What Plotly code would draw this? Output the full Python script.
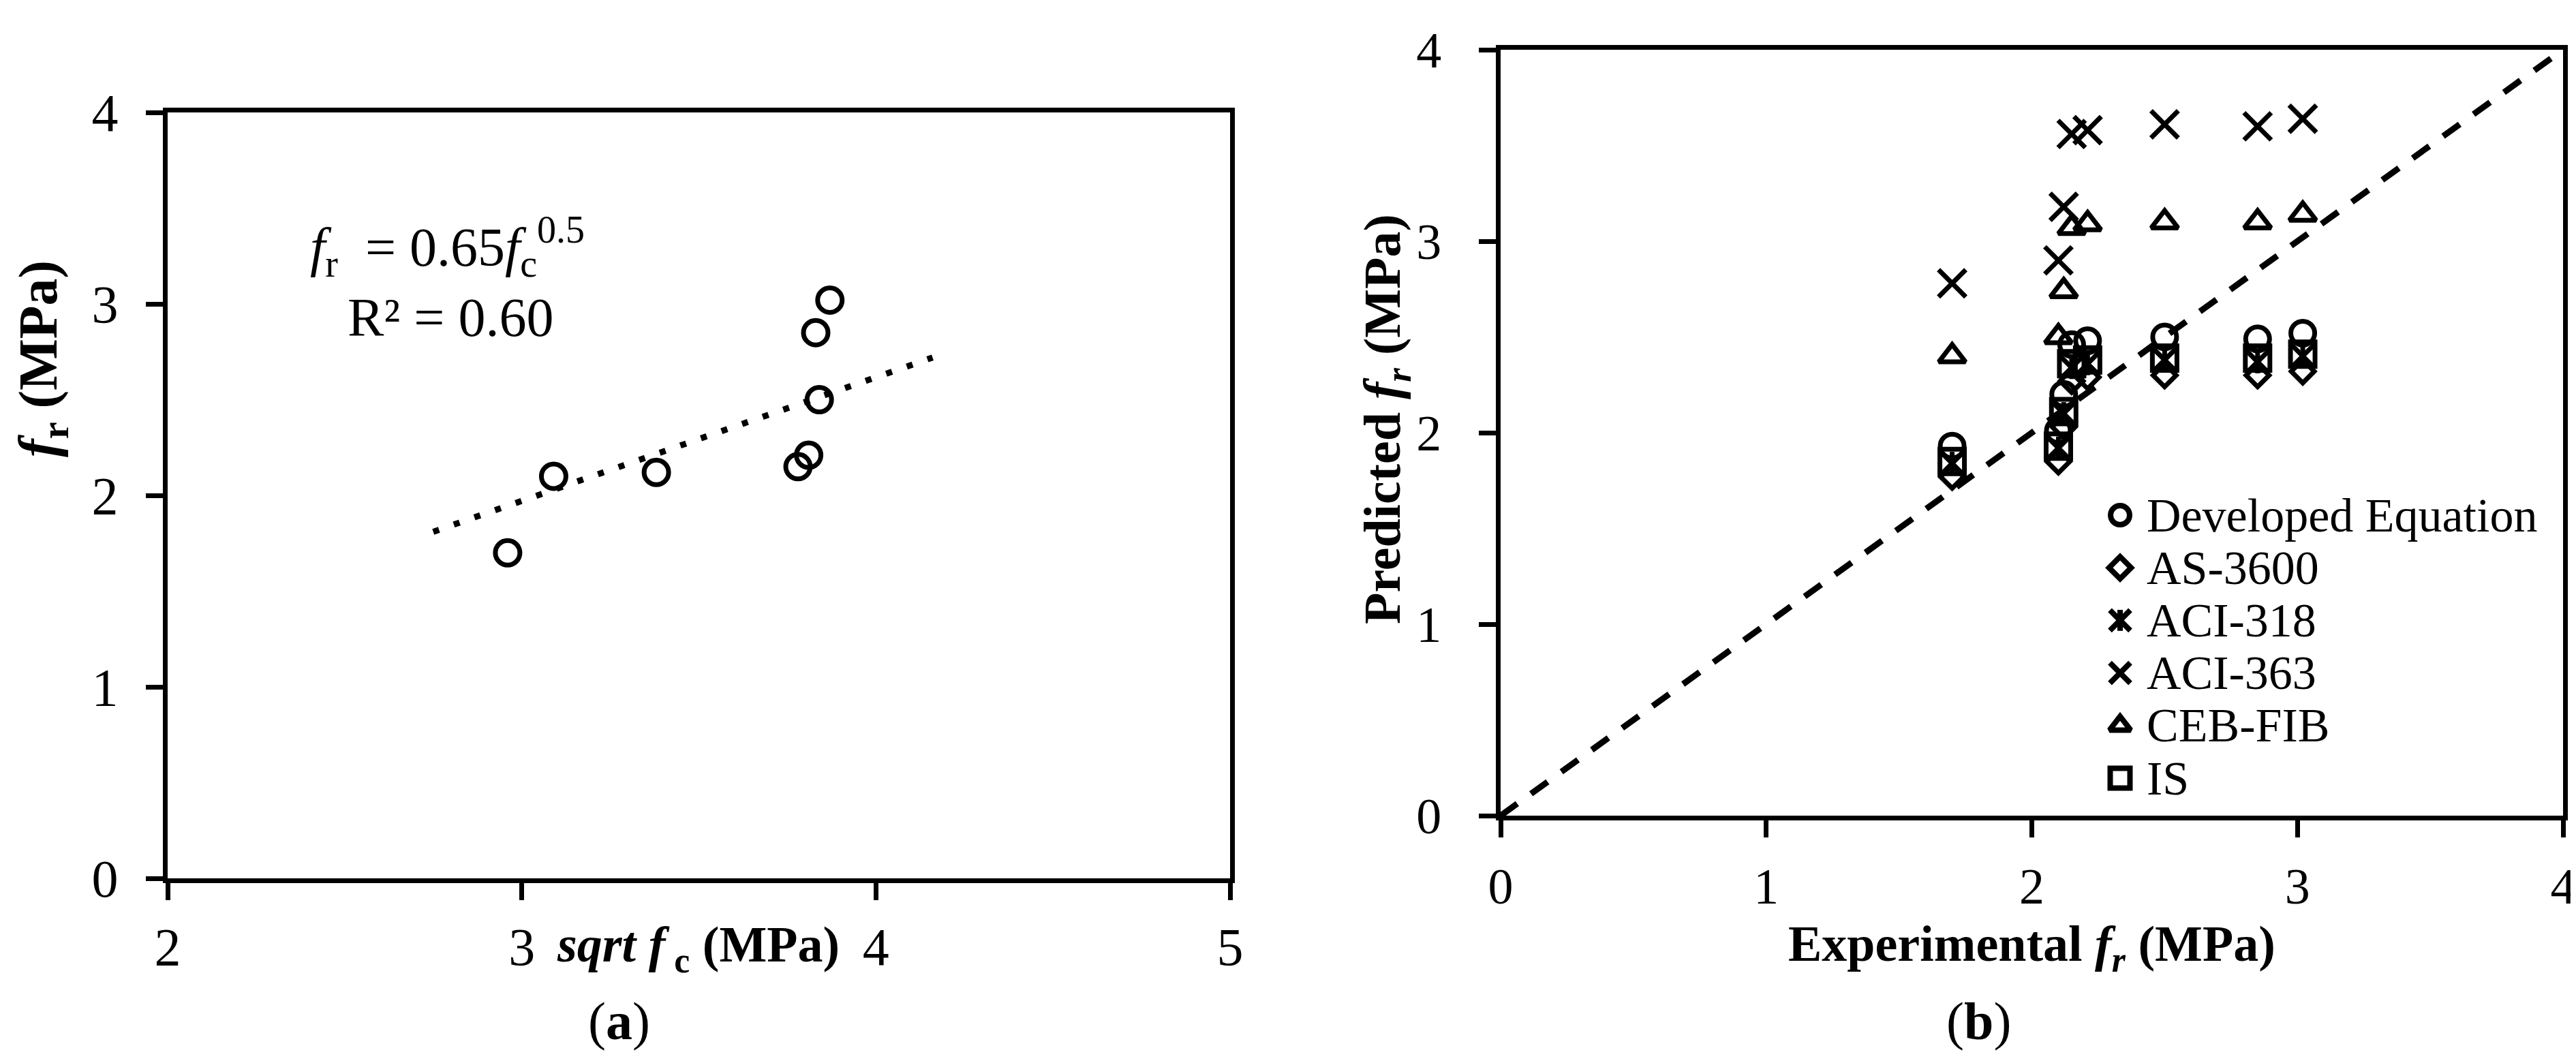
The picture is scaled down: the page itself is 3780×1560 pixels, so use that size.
import plotly.graph_objects as go

W, H = 3780, 1560

# ---- panel (a): modulus of rupture vs sqrt of compressive strength ----
sqrt_fc = [2.96, 3.09, 3.38, 3.78, 3.81, 3.84, 3.83, 3.87]
fr_exp = [1.70, 2.10, 2.12, 2.15, 2.21, 2.50, 2.85, 3.02]
trend_x = [2.75, 4.16]
trend_y = [1.81, 2.72]
ticks_a_x = [2, 3, 4, 5]
ticks_a_y = [0, 1, 2, 3, 4]

# ---- panel (b): predicted vs experimental f_r ----
pred_dev = [1.93, 2.01, 2.20, 2.46, 2.48, 2.50, 2.49, 2.52]
pred_as3600 = [1.77, 1.85, 2.03, 2.27, 2.29, 2.30, 2.30, 2.32]
pred_aci318 = [1.84, 1.92, 2.10, 2.34, 2.36, 2.38, 2.37, 2.40]
pred_aci363 = [2.78, 2.90, 3.18, 3.56, 3.58, 3.61, 3.60, 3.64]
pred_ceb = [2.40, 2.50, 2.74, 3.07, 3.09, 3.10, 3.10, 3.14]
pred_is = [1.85, 1.93, 2.11, 2.36, 2.38, 2.39, 2.39, 2.41]
equality = [0, 4]
ticks_b = [0, 1, 2, 3, 4]

SERIF = "Liberation Serif"
LW = 7

# name, values, [(symbol, plot size, legend size), ...] drawn on top of each other
series = [
    ("Developed Equation", pred_dev, [("circle-open", 35, 28)]),
    ("AS-3600", pred_as3600, [("diamond-open", 26, 25)]),
    ("ACI-318", pred_aci318, [("x-thin-open", 34, 30), ("line-ns-open", 24, 22)]),
    ("ACI-363", pred_aci363, [("x-thin-open", 40, 30)]),
    ("CEB-FIB", pred_ceb, [("triangle-up-open", 34, 27)]),
    ("IS", pred_is, [("square-open", 36, 29)]),
]


def px(x):
    return x / W


def py(y):
    return 1 - y / H


fig = go.Figure()

# ── (a) scatter + trend ──
fig.add_trace(go.Scatter(
    x=trend_x, y=trend_y, mode="lines", xaxis="x", yaxis="y",
    line=dict(color="black", width=9, dash="9px,23px"),
    showlegend=False, hoverinfo="skip"
))
fig.add_trace(go.Scatter(
    x=sqrt_fc, y=fr_exp, mode="markers", xaxis="x", yaxis="y",
    marker=dict(symbol="circle-open", size=36, color="black",
                line=dict(color="black", width=LW)),
    showlegend=False
))

# ── (b) 1:1 line + predictions ──
fig.add_trace(go.Scatter(
    x=equality, y=equality, mode="lines", xaxis="x2", yaxis="y2",
    line=dict(color="black", width=9, dash="30px,25px"),
    showlegend=False, hoverinfo="skip"
))
for name, vals, marks in series:
    for sym, size, _ in marks:
        fig.add_trace(go.Scatter(
            x=fr_exp, y=vals, mode="markers", xaxis="x2", yaxis="y2",
            name=name,
            marker=dict(symbol=sym, size=size, color="black",
                        line=dict(color="black", width=LW)),
            showlegend=False
        ))

# ── hand-made legend (plotly caps legend marker size at 16px) ──
LEG_X, LEG_TEXT_X, LEG_Y0, LEG_DY = 3103, 3140, 748, 77.2
for i, (name, vals, marks) in enumerate(series):
    yrow = LEG_Y0 + i * LEG_DY
    for sym, _, leg_size in marks:
        fig.add_trace(go.Scatter(
            x=[LEG_X], y=[yrow], mode="markers", xaxis="x3", yaxis="y3",
            marker=dict(symbol=sym, size=leg_size, color="black",
                        line=dict(color="black", width=8)),
            showlegend=False, hoverinfo="skip"
        ))
    fig.add_annotation(
        x=px(LEG_TEXT_X), y=py(yrow), xref="paper", yref="paper",
        text=name, showarrow=False, xanchor="left", yanchor="middle",
        font=dict(family=SERIF, size=70, color="black")
    )

axis_common = dict(
    showline=True, linecolor="black", linewidth=7, mirror=True,
    ticks="outside", ticklen=25, tickwidth=7, tickcolor="black",
    showgrid=False, zeroline=False, automargin=False,
)

fig.update_layout(
    width=W, height=H,
    margin=dict(l=0, r=0, t=0, b=0, autoexpand=False),
    paper_bgcolor="white",
    plot_bgcolor="rgba(0,0,0,0)",
    font=dict(family=SERIF, color="black"),
    xaxis=dict(axis_common, domain=[px(238), px(1797)], range=[2, 5],
               tickvals=ticks_a_x, anchor="y", ticklabelstandoff=1,
               tickfont=dict(family=SERIF, size=78, color="black")),
    yaxis=dict(axis_common, domain=[py(1281), py(157)], range=[0, 4],
               tickvals=ticks_a_y, anchor="x", ticklabelstandoff=25,
               tickfont=dict(family=SERIF, size=78, color="black")),
    xaxis2=dict(axis_common, domain=[px(2194), px(3753)], range=[0, 4],
                tickvals=ticks_b, anchor="y2", ticklabelstandoff=8,
                tickfont=dict(family=SERIF, size=74, color="black")),
    yaxis2=dict(axis_common, domain=[py(1189), py(65)], range=[0, 4],
                tickvals=ticks_b, anchor="x2", ticklabelstandoff=40,
                tickfont=dict(family=SERIF, size=74, color="black")),
    xaxis3=dict(domain=[0, 1], range=[0, W], visible=False, anchor="y3"),
    yaxis3=dict(domain=[0, 1], range=[H, 0], visible=False, anchor="x3"),
)

# ── titles and notes ──
notes = [
    # (x px, y px, text, size, anchor, angle)
    (445, 354, "<i>f</i><sub>r</sub>&nbsp; = 0.65<i>f</i><sub>c</sub><sup>0.5</sup>", 80, "left", 0),
    (500, 458, "R² = 0.60", 80, "left", 0),
    (1016, 1383, "<b><i>sqrt f</i></b><sub><b> c</b></sub><b> (MPa)</b>", 74, "center", 0),
    (54, 519, "<b><i>f</i></b><sub><b>r</b></sub><b> (MPa)</b>", 80, "center", -90),
    (900, 1490, "(<b>a</b>)", 78, "center", 0),
    (2973, 1382, "<b>Experimental <i>f</i><sub><i>r</i></sub> (MPa)</b>", 74, "center", 0),
    (2026, 607, "<b>Predicted <i>f</i><sub><i>r</i></sub> (MPa)</b>", 76, "center", -90),
    (2895, 1490, "(<b>b</b>)", 78, "center", 0),
]
for x, y, text, size, anchor, angle in notes:
    fig.add_annotation(
        x=px(x), y=py(y), xref="paper", yref="paper", text=text,
        showarrow=False, xanchor=anchor, yanchor="middle", textangle=angle,
        font=dict(family=SERIF, size=size, color="black")
    )

fig.write_html("out.html")
